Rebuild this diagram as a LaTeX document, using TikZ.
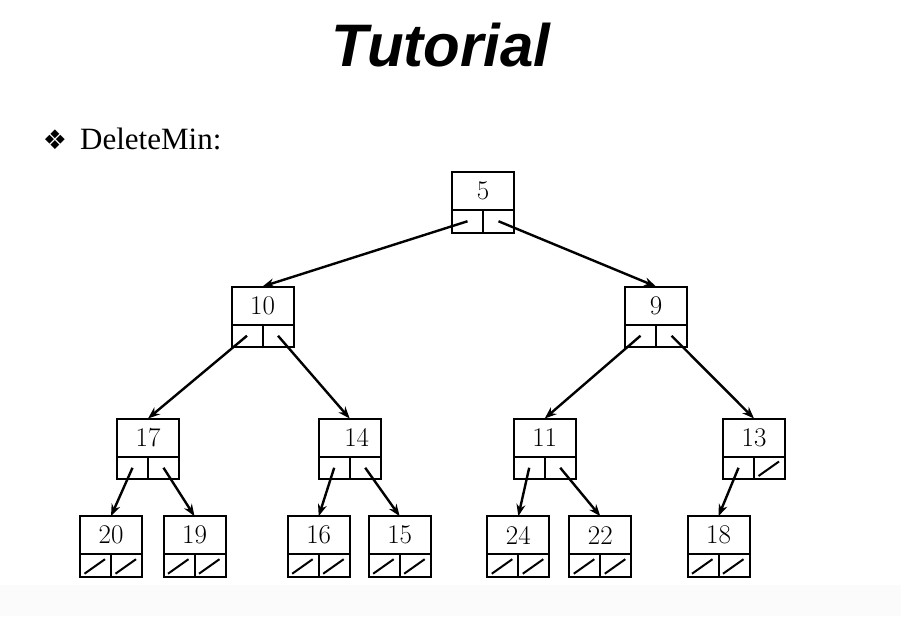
\documentclass[tikz,border=0pt]{standalone}
\usepackage{fontspec}
\usetikzlibrary{positioning,arrows.meta}
\newfontfamily\titlefont{Liberation Sans}
\newfontfamily\bodyfont{Liberation Serif}
\newfontfamily\dingfont{DejaVu Sans}

\begin{document}
\begin{tikzpicture}[>={Stealth[length=12pt,width=9pt]},x=1pt,y=-1pt,
        key/.style={draw,line width=2pt,outer sep=0pt,minimum width=62pt,minimum height=38pt,
            inner sep=0pt,font=\fontsize{27}{27}\selectfont},
        cell/.style={draw,line width=2pt,outer sep=0pt,minimum width=31pt,minimum height=22.5pt,inner sep=0pt},
        nil/.style={path picture={\draw[line width=2pt]
            ([xshift=4.5pt,yshift=3pt]path picture bounding box.south west)--
            ([xshift=-6pt,yshift=-5pt]path picture bounding box.north east);}},
        ptr/.style={},
        link/.style={->,line width=2.4pt}]
                \useasboundingbox (0,0) rectangle (901,616);
                \fill[white] (0,0) rectangle (901,616);
                \fill[black!1.5] (0,585) rectangle (901,616);

                \node[anchor=base,font=\titlefont\bfseries\itshape\fontsize{60}{60}\selectfont] (title) at(441,66) {Tutorial};
                \node[font=\dingfont\fontsize{27}{27}\selectfont] (bullet) at(55,140) {❖};
                \node[anchor=base west,inner sep=0pt,font=\bodyfont\fontsize{31}{31}\selectfont] (item) at(80,149) {DeleteMin:};

                % heap nodes: key on top, two pointer cells below
                \foreach \n/\x/\y/\dx/\sl/\sr in {5/483/191/0/ptr/ptr,
                        10/262.5/305.5/0/ptr/ptr, 9/656/305.5/0/ptr/ptr,
                        17/148/437.5/0/ptr/ptr, 14/349.7/437.5/14/ptr/ptr,
                        11/544.7/437.5/0/ptr/ptr, 13/754/437.5/0/ptr/nil,
                        20/111/535.2/0/nil/nil, 19/194.5/535.2/0/nil/nil,
                        16/318.7/535.2/0/nil/nil, 15/399.7/535.2/0/nil/nil,
                        24/518.3/535.2/0/nil/nil, 22/600.3/535.2/0/nil/nil,
                        18/718.5/535.2/0/nil/nil}{
                    \node[key] (n\n) at(\x,\y) {\hspace*{\dx pt}\n};
                    \node[cell,\sl,below left=0pt of n\n.south] (n\n-l) {};
                    \node[cell,\sr,below right=0pt of n\n.south] (n\n-r) {};
                }

                \draw[link] (n5-l.center)--(n10.north);
                \draw[link] (n5-r.center)--(n9.north);
                \draw[link] (n10-l.center)--(n17.north);
                \draw[link] (n10-r.center)--(n14.north);
                \draw[link] (n9-l.center)--(n11.north);
                \draw[link] (n9-r.center)--(n13.north);
                \draw[link] (n17-l.center)--(n20.north);
                \draw[link] (n17-r.center)--(n19.north);
                \draw[link] (n14-l.center)--(n16.north);
                \draw[link] (n14-r.center)--(n15.north);
                \draw[link] (n11-l.center)--(n24.north);
                \draw[link] (n11-r.center)--(n22.north);
                \draw[link] (n13-l.center)--(n18.north);
            \end{tikzpicture}
\end{document}
